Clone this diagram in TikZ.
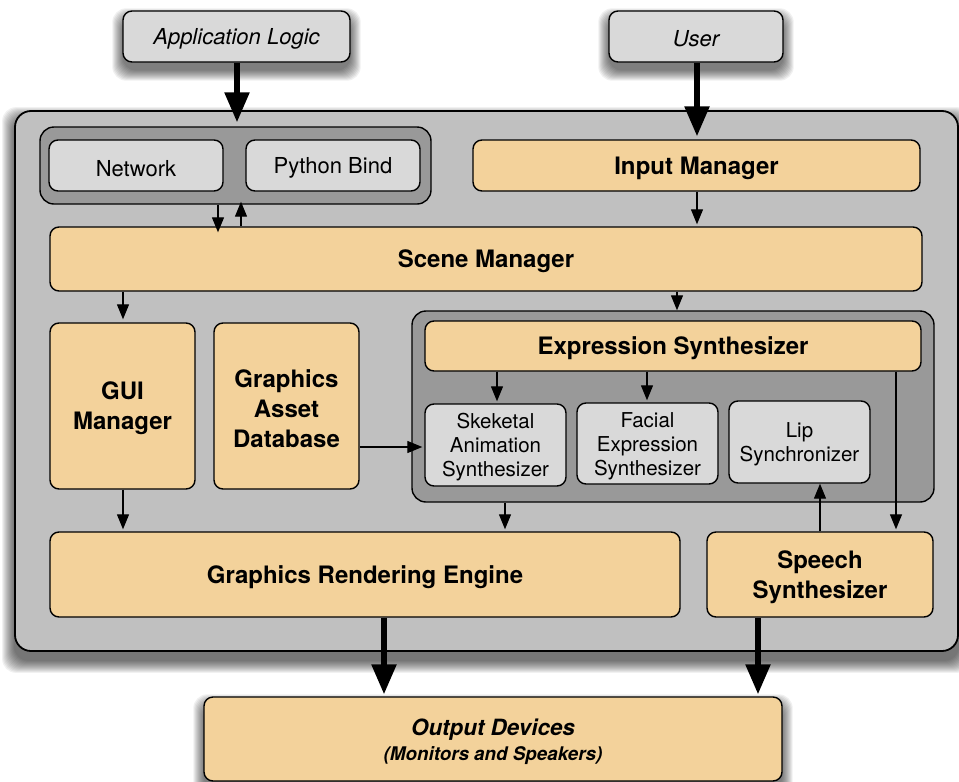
\documentclass[tikz,border=0pt]{standalone}
\usepackage{fontspec}
\setmainfont{TeX Gyre Heros}
\usetikzlibrary{arrows.meta,backgrounds}

\definecolor{panel}{HTML}{C0C0C0}
\definecolor{groupgray}{HTML}{999999}
\definecolor{lightbox}{HTML}{D9D9D9}
\definecolor{module}{HTML}{F3D29B}

% invisible strut that lowers the text block so the capitals sit centred
\newcommand\captop{\rule{0pt}{\dimexpr0.72em+5.5pt\relax}}

% soft drop shadow: stacked translucent rounded rectangles, offset downwards
% #1 node name, #2 number of rings, #3 opacity of one ring, #4 downward offset
\newcommand\castshadow[4]{%
  \foreach \k in {0,...,#2}{%
    \fill[black, fill opacity=#3, rounded corners=14pt]
      ([xshift={-\k*1pt}, yshift={(\k-#4)*1pt}]#1.north west) rectangle
      ([xshift={\k*1pt}, yshift={-(\k+#4)*1pt}]#1.south east);}}

\tikzset{
  base/.style={draw=black, line width=1.4pt, rounded corners=9pt, inner sep=0pt, align=center},
  ext/.style={base, fill=lightbox, font=\itshape\fontsize{22}{26}\selectfont},
  sub/.style={base, fill=lightbox, font=\fontsize{22}{26}\selectfont},
  subsmall/.style={base, fill=lightbox, font=\fontsize{20.5}{24}\selectfont},
  mod/.style={base, fill=module, font=\bfseries\fontsize{24}{30}\selectfont},
  grp/.style={base, fill=groupgray, rounded corners=14pt},
  panelbox/.style={base, line width=1.8pt, fill=panel, rounded corners=16pt},
  thin arrow/.style={-{Triangle[length=15pt,width=12pt]}, line width=1.3pt},
  thick arrow/.style={-{Triangle[length=30pt,width=24pt]}, line width=5.5pt},
}

\begin{document}
\begin{tikzpicture}[x=1pt, y=-1pt]
  \useasboundingbox (0,0) rectangle (959,782);

  % external actors
  \node[ext, minimum width=227pt, minimum height=51pt] (applogic) at (236.5,36.5) {\captop Application Logic};
  \node[ext, minimum width=174pt, minimum height=51pt] (user) at (696,36.5) {\captop User};

  % engine panel
  \node[panelbox, minimum width=943pt, minimum height=540pt] (engine) at (486.5,381) {};

  % front-end bindings
  \node[grp, minimum width=391pt, minimum height=77pt] (netgroup) at (235.5,165.5) {};
  \node[sub, minimum width=174pt, minimum height=51pt] (network) at (136,165.5) {\captop Network};
  \node[sub, minimum width=174pt, minimum height=51pt] (python) at (333,165.5) {\captop Python Bind};

  \node[mod, minimum width=447pt, minimum height=51pt] (input) at (696.5,165.5) {\captop Input Manager};
  \node[mod, minimum width=872pt, minimum height=64pt] (scene) at (486,259) {\captop Scene Manager};

  \node[mod, minimum width=145pt, minimum height=166pt] (gui) at (122.5,406) {\captop GUI\\Manager};
  \node[mod, minimum width=145pt, minimum height=166pt] (assets) at (286.5,406) {\captop Graphics\\Asset\\Database};

  % expression subsystem
  \node[grp, minimum width=522pt, minimum height=191pt] (exgroup) at (673,406.5) {};
  \node[mod, minimum width=496pt, minimum height=50pt] (exsyn) at (673,346) {\captop Expression Synthesizer};
  \node[subsmall, minimum width=141pt, minimum height=82pt] (skel) at (495.5,445) {\captop Skeketal\\Animation\\Synthesizer};
  \node[subsmall, minimum width=141pt, minimum height=81pt] (facial) at (647.5,443.5) {\captop Facial\\Expression\\Synthesizer};
  \node[subsmall, minimum width=141pt, minimum height=82pt] (lip) at (799.5,442) {\captop Lip\\Synchronizer};

  \node[mod, minimum width=630pt, minimum height=85pt] (render) at (365,574.5) {\captop Graphics Rendering Engine};
  \node[mod, minimum width=226pt, minimum height=85pt] (speech) at (820,574.5) {\captop Speech\\Synthesizer};

  % output
  \node[base, fill=module, minimum width=578pt, minimum height=84pt,
        font=\bfseries\itshape\fontsize{22.4}{25}\selectfont] (output) at (493,739)
        {\captop Output Devices\\\fontsize{18.8}{25}\selectfont (Monitors and Speakers)};

  % page and shadows behind everything
  \begin{scope}[on background layer]
    \fill[white] (0,0) rectangle (959,782);
    \castshadow{applogic}{10}{0.06}{8}
    \castshadow{user}{10}{0.06}{8}
    \castshadow{output}{10}{0.06}{8}
    \castshadow{engine}{12}{0.055}{9}
  \end{scope}

  % connectors
  \draw[thick arrow, shorten >=4pt] (applogic.south -| 237,0) -- (netgroup.north -| 237,0);
  \draw[thick arrow, shorten >=3pt] (user.south -| 697,0) -- (input.north -| 697,0);

  \draw[thin arrow, shorten >=-6pt] (netgroup.south -| 218,0) -- (scene.north -| 218,0);
  \draw[thin arrow, shorten >=-3pt] (scene.north -| 241,0) -- (netgroup.south -| 241,0);
  \draw[thin arrow, shorten >=2pt] (input.south -| 697,0) -- (scene.north -| 697,0);
  \draw[thin arrow, shorten >=3pt] (scene.south -| 123,0) -- (gui.north -| 123,0);
  \draw[thin arrow] (scene.south -| 677,0) -- (exgroup.north -| 677,0);
  \draw[thin arrow, shorten >=2pt] (exsyn.south -| 497,0) -- (skel.north -| 497,0);
  \draw[thin arrow, shorten >=2pt] (exsyn.south -| 647,0) -- (facial.north -| 647,0);
  \draw[thin arrow, shorten >=2pt] (exsyn.south -| 896,0) -- (speech.north -| 896,0);
  \draw[thin arrow, shorten >=2pt] (assets.east |- 0,447) -- (skel.west |- 0,447);
  \draw[thin arrow, shorten >=2pt] (exgroup.south -| 505,0) -- (render.north -| 505,0);
  \draw[thin arrow, shorten >=2pt] (gui.south -| 123,0) -- (render.north -| 123,0);
  \draw[thin arrow] (speech.north -| 820,0) -- (lip.south -| 820,0);

  \draw[thick arrow, shorten >=2pt] (render.south -| 384,0) -- (output.north -| 384,0);
  \draw[thick arrow, shorten >=2pt] (speech.south -| 758,0) -- (output.north -| 758,0);
\end{tikzpicture}
\end{document}
